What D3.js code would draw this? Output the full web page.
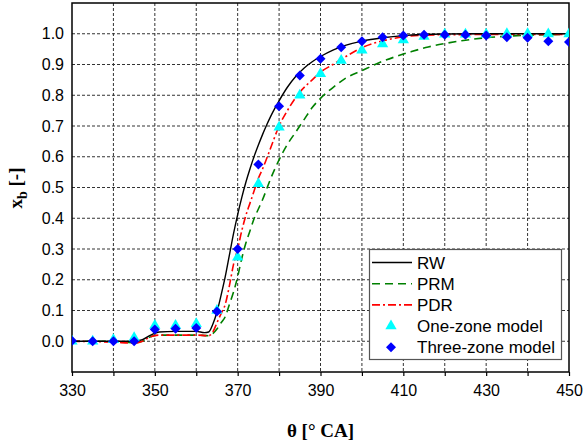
<!DOCTYPE html>
<html><head><meta charset="utf-8">
<script src="https://cdn.jsdelivr.net/npm/d3@7"></script>
<style>body{margin:0;background:#fff}svg{display:block}</style>
</head><body>
<svg id="c" width="584" height="448"></svg>
<script>
// ---- data ----
const xTicks = [330,350,370,390,410,430,450];
const yTicks = [0.0,0.1,0.2,0.3,0.4,0.5,0.6,0.7,0.8,0.9,1.0];
const rwTheta = [330,340,345,347,349,351,355,360,362,363,364,365,366,367,368,369,370,371,372,373,374,375,376,377,378,379,380,382,384,386,388,390,393,396,400,405,410,420,430,450];
const rwVals  = [0,0,0,0.005,0.02,0.03,0.032,0.032,0.028,0.03,0.055,0.095,0.15,0.21,0.28,0.35,0.412,0.468,0.518,0.562,0.602,0.638,0.672,0.703,0.732,0.758,0.782,0.826,0.861,0.888,0.909,0.926,0.947,0.962,0.976,0.987,0.994,0.999,1.0,1.0];
const prmTheta = [330,340,345,347,349,351,355,360,363,364,365,366,367,368,369,370,371,372,373,374,375,376,378,380,382,384,386,388,390,393,396,400,404,408,412,416,420,425,430,435,440,450];
const prmVals  = [0,0,-0.005,0,0.015,0.02,0.02,0.02,0.018,0.025,0.04,0.06,0.08,0.12,0.16,0.21,0.27,0.32,0.36,0.4,0.43,0.46,0.53,0.59,0.64,0.68,0.72,0.76,0.79,0.825,0.855,0.88,0.905,0.925,0.942,0.957,0.968,0.979,0.987,0.992,0.995,0.998];
const pdrTheta = [330,340,345,347,349,351,355,360,363,364,365,366,367,368,369,370,371,372,373,374,375,376,378,380,382,385,388,390,393,396,400,403,406,410,415,420,450];
const pdrVals  = [0,-0.003,-0.006,0,0.015,0.02,0.02,0.02,0.018,0.03,0.06,0.09,0.12,0.18,0.25,0.3,0.36,0.41,0.45,0.49,0.53,0.56,0.63,0.7,0.75,0.81,0.85,0.875,0.9,0.925,0.955,0.97,0.98,0.99,0.995,0.997,0.998];
const markerTheta = [330,335,340,345,350,355,360,365,370,375,380,385,390,395,400,405,410,415,420,425,430,435,440,445,450];
const oneZone   = [0.0,0.0,0.005,0.011,0.051,0.051,0.057,0.1,0.273,0.512,0.696,0.8,0.87,0.913,0.946,0.967,0.98,0.991,0.998,0.998,0.998,1.0,1.0,0.999,0.999];
const threeZone = [0.002,0.0,0.0,0.0,0.038,0.041,0.043,0.097,0.3,0.575,0.764,0.864,0.919,0.956,0.976,0.989,0.994,0.997,0.997,0.997,0.994,0.989,0.987,0.976,0.973];
const legendLabels = ["RW","PRM","PDR","One-zone model","Three-zone model"];

// ---- chart ----
const svg = d3.select("#c");
const L=72, R=569, T=3, B=372;
const x = d3.scaleLinear().domain([330,450]).range([L,R]);
const y = d3.scaleLinear().domain([-0.1,1.1]).range([B,T]);

// grid
const g = svg.append("g");
g.selectAll(".vg").data(d3.range(340,450,10)).enter().append("line")
  .attr("x1",d=>x(d)).attr("x2",d=>x(d)).attr("y1",T).attr("y2",B)
  .attr("stroke","#333").attr("stroke-width",1).attr("stroke-dasharray","3,2");
g.selectAll(".hg").data(yTicks).enter().append("line")
  .attr("x1",L).attr("x2",R).attr("y1",d=>y(d)).attr("y2",d=>y(d))
  .attr("stroke","#333").attr("stroke-width",1).attr("stroke-dasharray","3,2");

// axes
const xAxis = d3.axisBottom(x).tickValues(d3.range(330,451,10)).tickSize(4)
  .tickFormat(d=> xTicks.includes(d)? d : "");
const xa = svg.append("g").attr("transform",`translate(0,${B})`).call(xAxis);
xa.select(".domain").remove();
xa.selectAll("line").attr("stroke","#000").attr("stroke-width",1.2);
xa.selectAll("text").attr("font-family","Liberation Sans, Arial, sans-serif").attr("font-size",16).attr("fill","#000").attr("dy","1.05em");

const ya = svg.append("g").attr("transform",`translate(${L},0)`)
  .call(d3.axisLeft(y).tickValues(yTicks).tickSize(0).tickPadding(8).tickFormat(d3.format(".1f")));
ya.select(".domain").remove();
ya.selectAll("text").attr("font-family","Liberation Sans, Arial, sans-serif").attr("font-size",16).attr("fill","#000");

// frame
svg.append("rect").attr("x",L).attr("y",T).attr("width",R-L).attr("height",B-T)
  .attr("fill","none").attr("stroke","#000").attr("stroke-width",1.5);

// lines
const line = (th,v)=> d3.line().curve(d3.curveMonotoneX).x((d,i)=>x(th[i])).y(d=>y(d))(v);
const clip = svg.append("clipPath").attr("id","cp").append("rect").attr("x",L).attr("y",T).attr("width",R-L).attr("height",B-T);
const pl = svg.append("g").attr("clip-path","url(#cp)");
pl.append("path").attr("d",line(prmTheta,prmVals)).attr("fill","none").attr("stroke","#008000").attr("stroke-width",1.6).attr("stroke-dasharray","8,5");
pl.append("path").attr("d",line(pdrTheta,pdrVals)).attr("fill","none").attr("stroke","#ff0000").attr("stroke-width",1.6).attr("stroke-dasharray","8,3,2,3");
pl.append("path").attr("d",line(rwTheta,rwVals)).attr("fill","none").attr("stroke","#000").attr("stroke-width",1.4);

// markers
const tri = d3.symbol().type(d3.symbolTriangle).size(55);
const dia = d3.symbol().type(d3.symbolSquare).size(50);
pl.selectAll(".t").data(oneZone).enter().append("path")
  .attr("d",tri).attr("transform",(d,i)=>`translate(${x(markerTheta[i])},${y(d)})`).attr("fill","#00ffff");
pl.selectAll(".d").data(threeZone).enter().append("path")
  .attr("d",dia).attr("transform",(d,i)=>`translate(${x(markerTheta[i])},${y(d)}) rotate(45)`).attr("fill","#0000ff");

// legend
const lg = svg.append("g");
lg.append("rect").attr("x",369.5).attr("y",249.5).attr("width",192).attr("height",110)
  .attr("fill","#fff").attr("stroke","#555").attr("stroke-width",1.2);
const rowY = i => 262.5 + i*21.2;
lg.append("line").attr("x1",372).attr("x2",412).attr("y1",rowY(0)).attr("y2",rowY(0)).attr("stroke","#000").attr("stroke-width",1.4);
lg.append("line").attr("x1",372).attr("x2",412).attr("y1",rowY(1)).attr("y2",rowY(1)).attr("stroke","#008000").attr("stroke-width",1.6).attr("stroke-dasharray","8,5");
lg.append("line").attr("x1",372).attr("x2",412).attr("y1",rowY(2)).attr("y2",rowY(2)).attr("stroke","#ff0000").attr("stroke-width",1.6).attr("stroke-dasharray","8,3,2,3");
lg.append("path").attr("d",tri).attr("transform",`translate(391,${rowY(3)})`).attr("fill","#00ffff");
lg.append("path").attr("d",dia).attr("transform",`translate(391,${rowY(4)}) rotate(45)`).attr("fill","#0000ff");
lg.selectAll(".lt").data(legendLabels).enter().append("text")
  .attr("x",417).attr("y",(d,i)=>rowY(i)).attr("dy","0.36em")
  .attr("font-family","Liberation Sans, Arial, sans-serif").attr("font-size",17).attr("fill","#000").text(d=>d);

// axis titles
svg.append("text").attr("x",320.5).attr("y",437).attr("text-anchor","middle")
  .attr("font-family","Liberation Serif, Times New Roman, serif").attr("font-weight","bold").attr("font-size",19)
  .text("θ [° CA]");
const yt = svg.append("text").attr("transform","translate(22,188) rotate(-90)").attr("text-anchor","middle")
  .attr("font-family","Liberation Serif, Times New Roman, serif").attr("font-weight","bold").attr("font-size",19);
yt.append("tspan").text("x");
yt.append("tspan").attr("dy",5).attr("font-size",14).text("b");
yt.append("tspan").attr("dy",-5).text(" [-]");
</script>
</body></html>
